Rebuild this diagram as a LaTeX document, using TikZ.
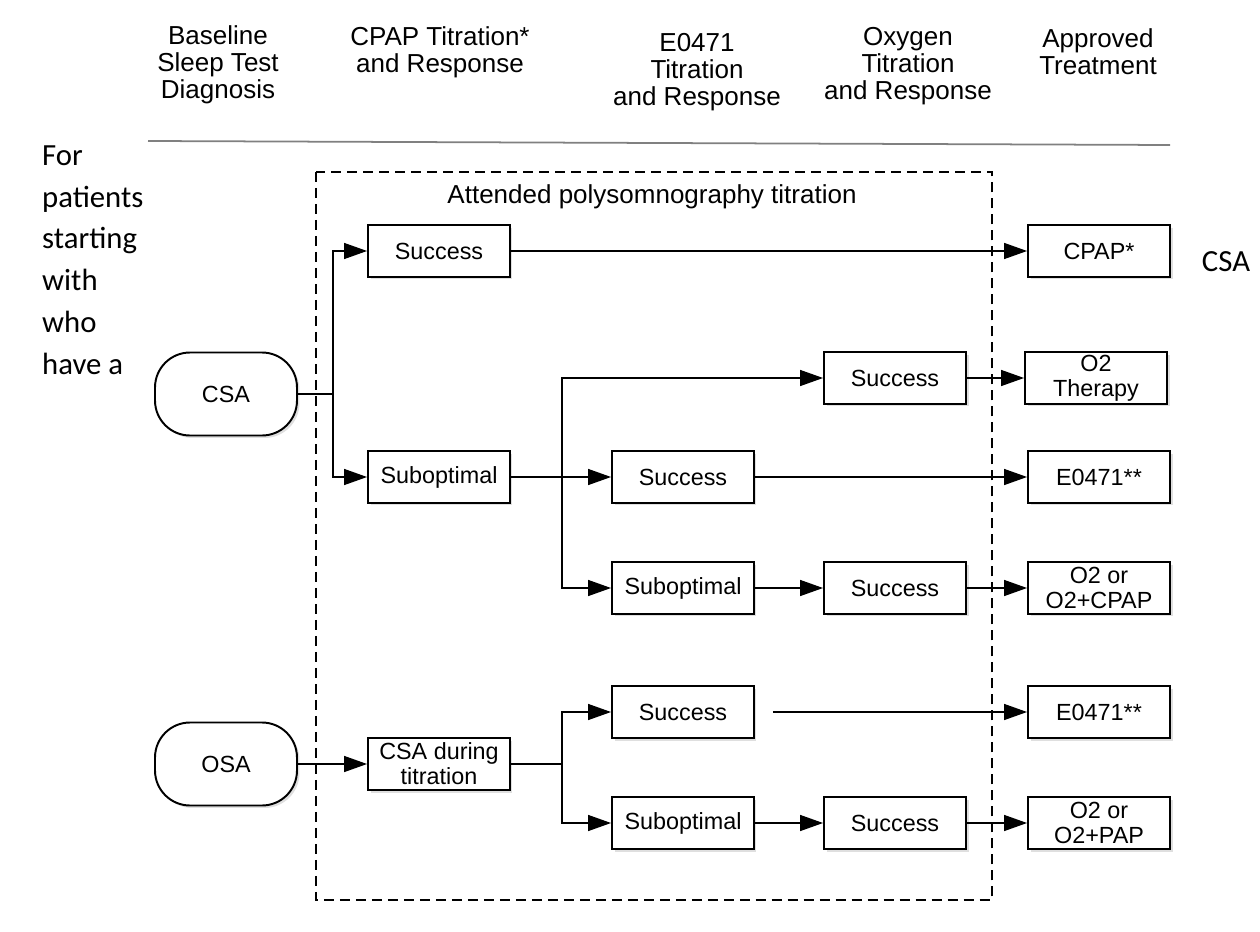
\documentclass[tikz,border=0pt]{standalone}
\usepackage{fontspec}
\setmainfont{Liberation Sans}
\newfontfamily\sidefont{Carlito}
\usetikzlibrary{arrows.meta,shadows}

\begin{document}
\begin{tikzpicture}[x=0.02cm, y=-0.02cm,
  box/.style={draw, line width=1.1pt, fill=white, minimum width=2.84cm, minimum height=1.04cm,
    inner sep=1pt, align=center, font=\fontsize{13.3}{14.2}\selectfont,
    drop shadow={shadow xshift=0.05cm, shadow yshift=-0.05cm, opacity=0.25}},
  term/.style={box, minimum height=1.66cm, rounded corners=0.7cm},
  head/.style={align=center, font=\fontsize{14.8}{15.5}\selectfont},
  side/.style={align=left, font=\sidefont\fontsize{17.5}{23.8}\selectfont},
  conn/.style={line width=0.8pt},
  arr/.style={conn, -{Triangle[length=0.46cm, width=0.32cm]}}]
\useasboundingbox (0,0) rectangle (1260,932);

% column heads
\node[head] (hBase) at (218,65) {Baseline\\Sleep Test\\Diagnosis};
\node[head] (hCpap) at (440,52) {CPAP Titration*\\and Response};
\node[head] (hEo) at (697,72) {E0471\\Titration\\and Response};
\node[head] (hOxy) at (908,66) {Oxygen\\Titration\\and Response};
\node[head] (hTreat) at (1098,52) {Approved\\Treatment};
\draw[gray, line width=1pt] (148,141) -- (1170,145);

\node[side, anchor=west] (sideL) at (36,260) {For\\patients\\starting\\with\\who\\have a};
\node[side] (sideR) at (1226,262) {CSA};

% attended titration
\draw[conn, dash pattern=on 0.2cm off 0.12cm] (316,172) rectangle (992,900);
\node[head] (attend) at (652,197) {Attended polysomnography titration};

% nodes
\node[term] (csa) at (226,394) {CSA};
\node[term] (osa) at (226,764) {OSA};
\node[box] (suc1) at (439,251) {Success};
\node[box] (sub1) at (439,477) {Suboptimal};
\node[box] (dur) at (439,764) {CSA during\\titration};
\node[box] (suc2) at (895,378) {Success};
\node[box] (suc3) at (683,477) {Success};
\node[box] (sub2) at (683,588) {Suboptimal};
\node[box] (suc4) at (895,588) {Success};
\node[box] (suc5) at (683,712) {Success};
\node[box] (sub3) at (683,823) {Suboptimal};
\node[box] (suc6) at (895,823) {Success};
\node[box] (cpap) at (1099,251) {CPAP*};
\node[box] (otwo) at (1096,378) {O2\\Therapy};
\node[box] (eoA) at (1099,477) {E0471**};
\node[box] (ocpap) at (1099,588) {O2 or\\O2+CPAP};
\node[box] (eoB) at (1099,712) {E0471**};
\node[box] (opap) at (1099,823) {O2 or\\O2+PAP};

% connectors
\coordinate (splitA) at (333,394);
\coordinate (splitB) at (562,477);
\coordinate (splitC) at (562,764);
\draw[conn] (csa) -- (splitA);
\draw[arr] (splitA) |- (suc1);
\draw[arr] (splitA) |- (sub1);
\draw[arr] (suc1) -- (cpap);
\draw[arr] (sub1) -- (suc3);
\draw[arr] (splitB) |- (suc2);
\draw[arr] (splitB) |- (sub2);
\draw[arr] (suc2) -- (otwo);
\draw[arr] (suc3) -- (eoA);
\draw[arr] (sub2) -- (suc4);
\draw[arr] (suc4) -- (ocpap);
\draw[arr] (osa) -- (dur);
\draw[conn] (dur) -- (splitC);
\draw[arr] (splitC) |- (suc5);
\draw[arr] (splitC) |- (sub3);
\draw[arr, shorten <=0.36cm] (suc5) -- (eoB);
\draw[arr] (sub3) -- (suc6);
\draw[arr] (suc6) -- (opap);
\end{tikzpicture}
\end{document}
